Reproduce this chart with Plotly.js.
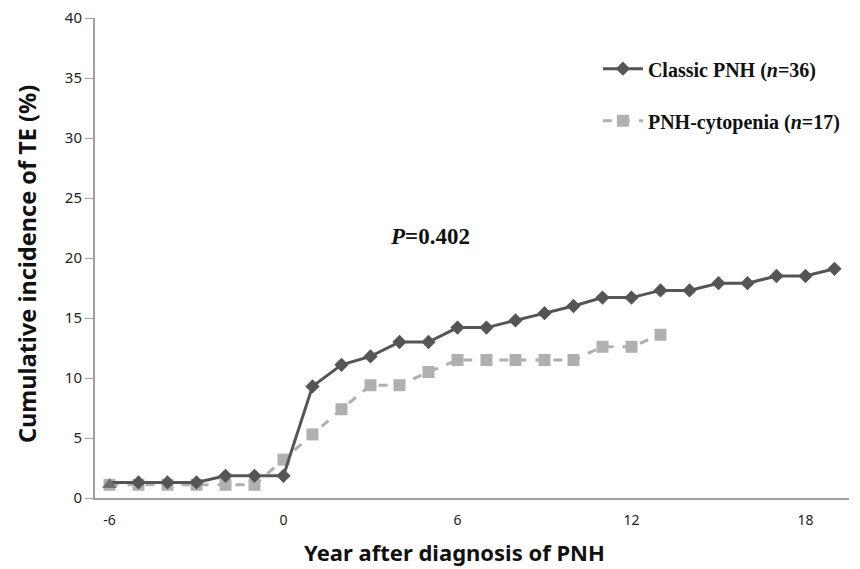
<!DOCTYPE html>
<html>
<head>
<meta charset="utf-8">
<script src="https://cdn.plot.ly/plotly-3.0.1.min.js"></script>
<style>html,body{margin:0;padding:0;background:#fff;}#chart{width:860px;height:569px;}</style>
</head>
<body>
<div id="chart"></div>
<script>
const classicYears = [-6,-5,-4,-3,-2,-1,0,1,2,3,4,5,6,7,8,9,10,11,12,13,14,15,16,17,18,19];
const classicValues = [1.3,1.3,1.3,1.3,1.85,1.85,1.85,9.3,11.1,11.8,13.0,13.0,14.2,14.2,14.8,15.4,16.0,16.7,16.7,17.3,17.3,17.9,17.9,18.5,18.5,19.1];
const cytoYears = [-6,-5,-4,-3,-2,-1,0,1,2,3,4,5,6,7,8,9,10,11,12,13];
const cytoValues = [1.1,1.1,1.1,1.1,1.1,1.1,3.2,5.3,7.4,9.4,9.4,10.5,11.5,11.5,11.5,11.5,11.5,12.6,12.6,13.6];
const xTickVals = [-6,0,6,12,18];
const xTickText = ['-6','0','6','12','18'];
const seriesNames = ['<b>Classic PNH (<i>n</i>=36)</b>', '<b>PNH-cytopenia (<i>n</i>=17)</b>'];
const pLabel = '<b><i>P</i>=0.402</b>';
const xTitle = '<b>Year after diagnosis of PNH</b>';
const yTitle = '<b>Cumulative incidence of TE (%)</b>';

const classicStyle = {line:{color:'#555555', width:3}, marker:{symbol:'diamond', size:11, color:'#555555'}};

const traces = [
  {
    x: cytoYears, y: cytoValues, type:'scatter', mode:'lines+markers',
    name: seriesNames[1], legendgroup:'b', legendrank: 2,
    line:{color:'#b0b0b0', width:3, dash:'dash'},
    marker:{symbol:'square', size:12, color:'#b0b0b0'}
  },
  {
    // classic PNH line through all points
    x: classicYears, y: classicValues, type:'scatter', mode:'lines',
    showlegend:false, hoverinfo:'skip', line:classicStyle.line
  },
  {
    // classic PNH diamond markers (first year drawn as a triangle below)
    x: classicYears.slice(1), y: classicValues.slice(1), type:'scatter', mode:'markers',
    showlegend:false, hoverinfo:'skip', marker:classicStyle.marker
  },
  {
    x: classicYears.slice(0,1), y: cytoValues.slice(0,1), type:'scatter', mode:'markers',
    showlegend:false, hoverinfo:'skip',
    marker:{symbol:'triangle-up', size:13, color:'#707070'}
  },
  {
    // legend entry for classic PNH
    x:[null], y:[null], type:'scatter', mode:'lines+markers',
    name: seriesNames[0], legendgroup:'a', legendrank: 1,
    line:classicStyle.line, marker:classicStyle.marker
  }
];

const pw = 860-95-11, ph = 569-18-71;
const layout = {
  width:860, height:569,
  margin:{l:95, r:11, t:18, b:71},
  paper_bgcolor:'#fff', plot_bgcolor:'#fff',
  showlegend:true,
  legend:{x:0.667, y:0.935, xanchor:'left', yanchor:'top', bgcolor:'rgba(0,0,0,0)',
    font:{family:'Liberation Serif', size:20, color:'#111'}, tracegroupgap:23, traceorder:'grouped', itemwidth:40},
  xaxis:{range:[-6.5,19.5], tickmode:'array', tickvals:xTickVals, ticktext:xTickText,
    showline:true, linecolor:'#a0a0a0', linewidth:2, showgrid:false, zeroline:false, ticks:'',
    tickfont:{family:'Noto Sans', size:14, color:'#222'}, ticklabelstandoff:8},
  yaxis:{range:[0,40], dtick:5, showline:true, linecolor:'#a0a0a0', linewidth:2, showgrid:false, zeroline:false,
    ticks:'outside', ticklen:8, tickcolor:'#a0a0a0', tickwidth:1,
    tickfont:{family:'Noto Sans', size:15, color:'#222'}},
  annotations:[
    {text:pLabel, x:(430-95)/pw, y:(498-236)/ph, xref:'paper', yref:'paper', showarrow:false,
     xanchor:'center', yanchor:'middle',
     font:{family:'Liberation Serif', size:23, color:'#111'}},
    {text:xTitle, x:(454-95)/pw, y:(498-552)/ph, xref:'paper', yref:'paper', showarrow:false,
     xanchor:'center', yanchor:'middle',
     font:{family:'Noto Sans', size:22, color:'#111'}},
    {text:yTitle, x:(27-95)/pw, y:(498-264)/ph, xref:'paper', yref:'paper', showarrow:false, textangle:-90,
     xanchor:'center', yanchor:'middle',
     font:{family:'Noto Sans', size:23.5, color:'#111'}}
  ]
};

Plotly.newPlot('chart', traces, layout, {displayModeBar:false, staticPlot:true});
</script>
</body>
</html>
